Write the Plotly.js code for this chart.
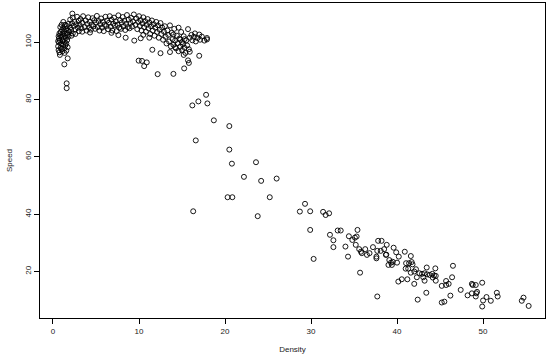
<!DOCTYPE html>
<html>
<head>
<meta charset="utf-8">
<script src="https://cdn.plot.ly/plotly-3.0.1.min.js"></script>
<style>html,body{margin:0;padding:0;background:#fff;}#chart{width:550px;height:358px;}</style>
</head>
<body>
<div id="chart"></div>
<script>
// Free-flow cluster (low density, high speed)
const densityFreeA = [0.6,0.65,0.7,0.7,0.75,0.8,0.8,0.85,0.9,0.9,
  0.95,1.0,1.0,1.05,1.1,1.1,1.15,1.2,1.2,1.25,
  1.3,1.3,1.35,1.4,1.4,1.45,1.5,1.5,1.55,1.6,
  1.6,1.65,1.7,1.7,1.75,1.8,1.8,0.75,0.85,1.0,
  1.2,0.6,0.65,1.35,1.55];
const speedFreeA = [98.5,97.2,99.8,101.2,96.4,95.5,100.5,102.3,98.0,103.5,
  99.3,101.8,97.5,104.2,100.3,96.8,102.9,99.0,105.0,101.0,
  97.8,103.8,100.0,106.0,102.0,98.9,104.5,101.4,99.5,103.0,
  105.6,100.7,102.5,98.2,104.0,106.3,101.9,103.0,105.2,106.0,
  107.0,100.3,102.0,96.2,97.0];

const densityFreeB = [1.9,2.0,2.0,2.1,2.2,2.3,2.3,2.4,2.5,2.6,
  2.7,2.8,2.9,3.0,3.0,3.1,3.2,3.3,3.4,3.5,
  2.6,3.4,2.15];
const speedFreeB = [103.5,105.0,107.8,104.2,106.5,103.0,108.5,105.6,107.0,104.4,
  106.2,108.8,105.0,107.4,103.8,106.0,108.0,104.8,106.8,109.0,
  102.8,103.6,102.2];

const densityFreeC = [3.7,3.8,3.9,4.0,4.1,4.2,4.3,4.4,4.5,4.6,
  4.7,4.8,4.9,5.0,5.1,5.2,5.3,5.4,5.5,5.6,
  5.7,5.8,5.9,6.0,6.1,6.2,6.3,6.4,6.5,6.6,
  6.7,6.8,6.9,7.0,7.1,7.2,7.3,7.4,7.5,7.6,
  7.7,7.8,7.9,8.0,8.1,8.2,8.3,8.4,8.5,8.6,
  8.7,8.8,8.9,9.0,9.1,9.2,9.3,9.4,4.3,6.8];
const speedFreeC = [105.2,107.5,104.0,106.3,108.6,105.0,107.0,104.3,106.0,108.3,
  105.5,107.6,104.6,106.8,109.1,105.2,107.3,104.0,106.2,108.2,
  105.0,107.0,103.8,106.0,108.8,105.6,107.5,104.5,106.7,109.0,
  105.3,107.8,104.0,106.4,108.5,105.8,107.2,103.8,106.0,109.3,
  105.0,107.6,104.6,106.8,108.7,105.5,107.4,104.2,106.3,109.4,
  105.2,107.8,104.8,106.6,108.4,105.4,107.2,109.6,103.3,103.2];

const densityFreeD = [9.6,9.7,9.8,9.9,10.0,10.1,10.2,10.3,10.4,10.5,
  10.6,10.7,10.8,10.9,11.0,11.1,11.2,11.3,11.4,11.5,
  11.6,11.7,11.8,11.9,12.0,12.1,12.2,12.3,12.4,12.5,
  12.6,12.7,12.8,12.9,10.5,11.2];
const speedFreeD = [106.0,108.2,104.5,107.0,109.0,105.6,107.6,104.0,106.5,108.6,
  105.2,107.3,103.6,106.0,108.0,104.8,106.8,102.8,105.5,107.5,
  104.0,106.2,102.2,105.0,107.0,103.5,105.8,101.5,104.3,106.6,
  102.8,105.0,100.8,103.6,102.5,101.5];

const densityFreeE = [13.0,13.1,13.2,13.3,13.4,13.5,13.6,13.7,13.8,13.9,
  14.0,14.1,14.2,14.3,14.4,14.5,14.6,14.6,14.7,14.8,
  14.9,15.0,15.0,15.1,15.2,15.3,15.4,15.5,15.6,15.7,
  15.8,14.2,14.8,15.3,13.6,15.2,14.0];
const speedFreeE = [105.5,101.8,99.5,104.0,102.5,100.2,105.8,98.5,103.2,101.0,
  99.0,104.6,100.5,97.8,102.2,99.6,105.0,96.8,101.2,98.4,
  103.5,100.0,97.2,99.2,102.0,98.0,96.2,100.6,98.8,104.5,
  97.5,98.2,100.8,101.0,96.5,95.5,102.6];

const densityFreeF = [15.9,16.1,16.2,16.4,16.5,16.6,16.8,17.0,17.1,17.3,
  17.6,17.9,17.9];
const speedFreeF = [101.5,102.5,100.6,101.8,103.0,100.2,101.4,102.6,100.8,101.9,
  100.5,100.9,101.4];

const densityFreeOut = [2.25,7.6,8.45,9.45,10.2,1.71,1.32,1.59,1.59,11.55,
  12.5,9.96,10.35,10.9,10.6,12.17,14.0,15.25,15.7,15.8,
  17.0,15.9];
const speedFreeOut = [109.9,102.4,101.5,100.5,101.3,94.3,92.2,85.6,83.9,97.3,
  96.1,93.5,93.4,92.9,91.6,88.8,88.9,90.8,93.6,92.7,
  95.2,96.6];

// Transition region
const densityTrans = [17.8,16.9,16.2,17.95,18.7,20.5,16.6,20.5,20.8,23.6,
  22.2,24.2,26.0,20.3,20.85,25.2,16.3,23.8];
const speedTrans = [81.6,79.3,77.9,78.6,72.7,70.7,65.7,62.5,57.6,58.1,
  53.0,51.6,52.4,45.9,45.9,45.9,41.0,39.3];

// Congested region
const densityJam1 = [29.3,28.7,29.9,31.4,31.7,32.1,29.9,30.3,32.2,32.6,
  32.6,33.1,33.45,34.4,34.0,34.3,34.8,35.1,35.3,35.4,
  35.2,35.6,35.8,35.9,36.3,36.5,36.8,35.7,37.2,37.6,
  37.6,37.8,38.2,37.7,38.1,38.5,38.8,38.7,38.75,39.1,
  39.3,39.5,39.0,39.4,39.6,39.9,40.0,40.2,40.15,37.7];
const speedJam1 = [43.6,40.9,41.0,40.8,39.7,40.3,34.5,24.4,32.8,30.9,
  28.5,34.3,34.3,32.3,28.7,25.2,31.0,31.8,32.2,34.5,
  29.3,27.8,26.9,26.4,27.8,25.8,26.4,19.6,28.5,25.2,
  24.6,30.7,30.7,27.2,27.2,27.8,29.3,25.8,25.9,24.0,
  23.1,23.4,22.3,22.3,28.3,26.7,23.1,25.2,16.5,11.3];

const densityJam2 = [40.9,41.6,41.05,41.4,41.8,41.0,41.3,41.7,42.0,41.6,
  42.2,42.6,42.9,43.2,43.5,43.8,44.1,44.3,44.5,43.45,
  44.45,42.3,43.05,43.2,44.15,44.5,40.55,41.2,42.0,42.4,
  43.4,45.2,45.7,46.0,45.7,46.5,46.4,46.2,45.2,45.5,
  47.4,48.2,48.7,48.8,49.15,48.7,49.2,49.3,49.15,49.9,
  50.4,50.0,49.9,50.9,51.6,51.7,54.7,54.5,55.3];
const speedJam2 = [26.9,25.4,22.9,22.9,22.5,21.0,21.0,23.3,20.0,19.6,
  20.8,19.4,19.2,19.4,19.0,18.8,19.2,18.6,18.5,21.4,
  21.1,18.0,18.0,16.8,17.9,16.8,17.3,17.3,15.7,10.2,
  12.6,15.0,15.3,15.7,16.7,22.0,18.0,11.6,9.2,9.5,
  13.6,11.7,15.7,15.3,15.3,12.4,12.4,12.9,11.3,16.1,
  11.1,9.9,7.8,9.8,12.6,11.3,10.9,9.8,8.0];

const xTickVals = [0, 10, 20, 30, 40, 50];
const yTickVals = [20, 40, 60, 80, 100];
const xLabel = 'Density';
const yLabel = 'Speed';

const density = [].concat(densityFreeA, densityFreeB, densityFreeC, densityFreeD,
  densityFreeE, densityFreeF, densityFreeOut, densityTrans, densityJam1, densityJam2);
const speed = [].concat(speedFreeA, speedFreeB, speedFreeC, speedFreeD,
  speedFreeE, speedFreeF, speedFreeOut, speedTrans, speedJam1, speedJam2);

const trace = {
  type: 'scatter', mode: 'markers', x: density, y: speed,
  marker: {symbol: 'circle-open', size: 5, color: 'black', line: {width: 0.9, color: 'black'}},
  hoverinfo: 'x+y'
};

const axisCommon = {
  showline: true, mirror: true, linecolor: 'black', linewidth: 1,
  ticks: 'outside', ticklen: 5, tickwidth: 1, tickcolor: 'black',
  showgrid: false, zeroline: false
};

const layout = {
  width: 550, height: 358,
  margin: {l: 40, r: 5, t: 3, b: 40},
  paper_bgcolor: 'white', plot_bgcolor: 'white',
  showlegend: false,
  font: {family: '"Liberation Sans", Arial, sans-serif', size: 8, color: '#222'},
  xaxis: Object.assign({}, axisCommon, {
    range: [-1.51, 57.2], tickmode: 'array', tickvals: xTickVals,
    title: {text: xLabel, standoff: 11, font: {size: 8}}
  }),
  yaxis: Object.assign({}, axisCommon, {
    range: [3.8, 113.6], tickmode: 'array', tickvals: yTickVals, tickangle: -90,
    title: {text: yLabel, standoff: 9, font: {size: 8}}
  })
};

Plotly.newPlot('chart', [trace], layout, {staticPlot: true, displayModeBar: false});
</script>
</body>
</html>
